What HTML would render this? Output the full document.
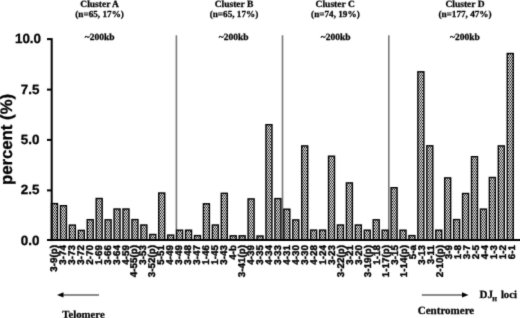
<!DOCTYPE html>
<html><head><meta charset="utf-8"><style>
html,body{margin:0;padding:0;background:#fff;}
svg{display:block;text-rendering:geometricPrecision;}
.ser{font-family:"Liberation Serif",serif;font-weight:bold;}
.san{font-family:"Liberation Sans",sans-serif;font-weight:bold;}
</style></head><body>
<svg width="520" height="318" viewBox="0 0 520 318">
<defs>
<filter id="bl" x="0" y="0" width="1" height="1" color-interpolation-filters="sRGB"><feConvolveMatrix order="3" kernelMatrix="1 6 1 6 36 6 1 6 1" divisor="64" edgeMode="duplicate"/></filter>
<pattern id="chk" width="2" height="3" patternUnits="userSpaceOnUse">
<rect width="2" height="3" fill="#fff"/>
<rect width="1" height="1.3" fill="#000"/>
<rect x="1" y="1.5" width="1" height="1.3" fill="#000"/>
</pattern>
</defs>
<g filter="url(#bl)">
<rect width="520" height="318" fill="#fff"/>
<!-- cluster titles -->
<g class="ser" font-size="9.5" text-anchor="middle" fill="#000" stroke="#000" stroke-width="0.25">
<text x="99.6" y="6.5">Cluster A</text>
<text x="99.6" y="17.2" font-size="9.2">(n=65, 17%)</text>
<text x="99.6" y="39.6">~200kb</text>
<text x="234" y="6.5">Cluster B</text>
<text x="234" y="17.2" font-size="9.2">(n=65, 17%)</text>
<text x="233.7" y="39.6">~200kb</text>
<text x="335.2" y="6.5">Cluster C</text>
<text x="335.4" y="17.2" font-size="9.2">(n=74, 19%)</text>
<text x="335.6" y="39.6">~200kb</text>
<text x="465" y="6.5">Cluster D</text>
<text x="465" y="17.2" font-size="9.2">(n=177, 47%)</text>
<text x="465" y="39.6">~200kb</text>
</g>
<!-- dividers -->
<g fill="#777">
<rect x="175.6" y="35.3" width="1.6" height="204"/>
<rect x="281.7" y="35.3" width="1.6" height="204"/>
<rect x="388.0" y="35.3" width="1.6" height="204"/>
</g>
<!-- bars -->
<rect x="51.50" y="203.60" width="6.00" height="36.10" fill="url(#chk)" stroke="#000" stroke-width="1.4"/>
<rect x="60.44" y="205.70" width="6.00" height="34.00" fill="url(#chk)" stroke="#000" stroke-width="1.4"/>
<rect x="69.37" y="225.10" width="6.00" height="14.60" fill="url(#chk)" stroke="#000" stroke-width="1.4"/>
<rect x="78.31" y="230.40" width="6.00" height="9.30" fill="url(#chk)" stroke="#000" stroke-width="1.4"/>
<rect x="87.24" y="219.70" width="6.00" height="20.00" fill="url(#chk)" stroke="#000" stroke-width="1.4"/>
<rect x="96.18" y="198.50" width="6.00" height="41.20" fill="url(#chk)" stroke="#000" stroke-width="1.4"/>
<rect x="105.12" y="219.80" width="6.00" height="19.90" fill="url(#chk)" stroke="#000" stroke-width="1.4"/>
<rect x="114.05" y="209.00" width="6.00" height="30.70" fill="url(#chk)" stroke="#000" stroke-width="1.4"/>
<rect x="122.99" y="209.00" width="6.00" height="30.70" fill="url(#chk)" stroke="#000" stroke-width="1.4"/>
<rect x="131.92" y="219.60" width="6.00" height="20.10" fill="url(#chk)" stroke="#000" stroke-width="1.4"/>
<rect x="140.86" y="225.00" width="6.00" height="14.70" fill="url(#chk)" stroke="#000" stroke-width="1.4"/>
<rect x="149.80" y="234.50" width="6.00" height="5.20" fill="url(#chk)" stroke="#000" stroke-width="1.4"/>
<rect x="158.73" y="193.00" width="6.00" height="46.70" fill="url(#chk)" stroke="#000" stroke-width="1.4"/>
<rect x="167.67" y="235.10" width="6.00" height="4.60" fill="url(#chk)" stroke="#000" stroke-width="1.4"/>
<rect x="176.60" y="230.20" width="6.00" height="9.50" fill="url(#chk)" stroke="#000" stroke-width="1.4"/>
<rect x="185.54" y="230.20" width="6.00" height="9.50" fill="url(#chk)" stroke="#000" stroke-width="1.4"/>
<rect x="194.48" y="235.60" width="6.00" height="4.10" fill="url(#chk)" stroke="#000" stroke-width="1.4"/>
<rect x="203.41" y="203.80" width="6.00" height="35.90" fill="url(#chk)" stroke="#000" stroke-width="1.4"/>
<rect x="212.35" y="225.00" width="6.00" height="14.70" fill="url(#chk)" stroke="#000" stroke-width="1.4"/>
<rect x="221.28" y="193.30" width="6.00" height="46.40" fill="url(#chk)" stroke="#000" stroke-width="1.4"/>
<rect x="230.22" y="235.80" width="6.00" height="3.90" fill="url(#chk)" stroke="#000" stroke-width="1.4"/>
<rect x="239.16" y="235.80" width="6.00" height="3.90" fill="url(#chk)" stroke="#000" stroke-width="1.4"/>
<rect x="248.09" y="198.90" width="6.00" height="40.80" fill="url(#chk)" stroke="#000" stroke-width="1.4"/>
<rect x="257.03" y="236.00" width="6.00" height="3.70" fill="url(#chk)" stroke="#000" stroke-width="1.4"/>
<rect x="265.96" y="124.70" width="6.00" height="115.00" fill="url(#chk)" stroke="#000" stroke-width="1.4"/>
<rect x="274.90" y="198.60" width="6.00" height="41.10" fill="url(#chk)" stroke="#000" stroke-width="1.4"/>
<rect x="283.84" y="209.20" width="6.00" height="30.50" fill="url(#chk)" stroke="#000" stroke-width="1.4"/>
<rect x="292.77" y="219.90" width="6.00" height="19.80" fill="url(#chk)" stroke="#000" stroke-width="1.4"/>
<rect x="301.71" y="145.90" width="6.00" height="93.80" fill="url(#chk)" stroke="#000" stroke-width="1.4"/>
<rect x="310.64" y="230.10" width="6.00" height="9.60" fill="url(#chk)" stroke="#000" stroke-width="1.4"/>
<rect x="319.58" y="230.10" width="6.00" height="9.60" fill="url(#chk)" stroke="#000" stroke-width="1.4"/>
<rect x="328.52" y="156.20" width="6.00" height="83.50" fill="url(#chk)" stroke="#000" stroke-width="1.4"/>
<rect x="337.45" y="225.00" width="6.00" height="14.70" fill="url(#chk)" stroke="#000" stroke-width="1.4"/>
<rect x="346.39" y="182.90" width="6.00" height="56.80" fill="url(#chk)" stroke="#000" stroke-width="1.4"/>
<rect x="355.32" y="225.00" width="6.00" height="14.70" fill="url(#chk)" stroke="#000" stroke-width="1.4"/>
<rect x="364.26" y="230.20" width="6.00" height="9.50" fill="url(#chk)" stroke="#000" stroke-width="1.4"/>
<rect x="373.20" y="219.80" width="6.00" height="19.90" fill="url(#chk)" stroke="#000" stroke-width="1.4"/>
<rect x="382.13" y="230.20" width="6.00" height="9.50" fill="url(#chk)" stroke="#000" stroke-width="1.4"/>
<rect x="391.07" y="187.70" width="6.00" height="52.00" fill="url(#chk)" stroke="#000" stroke-width="1.4"/>
<rect x="400.00" y="230.20" width="6.00" height="9.50" fill="url(#chk)" stroke="#000" stroke-width="1.4"/>
<rect x="408.94" y="235.60" width="6.00" height="4.10" fill="url(#chk)" stroke="#000" stroke-width="1.4"/>
<rect x="417.88" y="71.80" width="6.00" height="167.90" fill="url(#chk)" stroke="#000" stroke-width="1.4"/>
<rect x="426.81" y="145.80" width="6.00" height="93.90" fill="url(#chk)" stroke="#000" stroke-width="1.4"/>
<rect x="435.75" y="230.20" width="6.00" height="9.50" fill="url(#chk)" stroke="#000" stroke-width="1.4"/>
<rect x="444.68" y="177.90" width="6.00" height="61.80" fill="url(#chk)" stroke="#000" stroke-width="1.4"/>
<rect x="453.62" y="219.60" width="6.00" height="20.10" fill="url(#chk)" stroke="#000" stroke-width="1.4"/>
<rect x="462.56" y="193.50" width="6.00" height="46.20" fill="url(#chk)" stroke="#000" stroke-width="1.4"/>
<rect x="471.49" y="156.70" width="6.00" height="83.00" fill="url(#chk)" stroke="#000" stroke-width="1.4"/>
<rect x="480.43" y="209.10" width="6.00" height="30.60" fill="url(#chk)" stroke="#000" stroke-width="1.4"/>
<rect x="489.36" y="177.50" width="6.00" height="62.20" fill="url(#chk)" stroke="#000" stroke-width="1.4"/>
<rect x="498.30" y="145.90" width="6.00" height="93.80" fill="url(#chk)" stroke="#000" stroke-width="1.4"/>
<rect x="507.24" y="53.50" width="6.00" height="186.20" fill="url(#chk)" stroke="#000" stroke-width="1.4"/>
<!-- axes -->
<rect x="50.7" y="38.1" width="2" height="203" fill="#000"/>
<rect x="47" y="239" width="473" height="2" fill="#000"/>
<g fill="#000">
<rect x="47" y="38.1" width="4" height="2"/>
<rect x="47" y="88.6" width="4" height="2"/>
<rect x="47" y="138.9" width="4" height="2"/>
<rect x="47" y="189.4" width="4" height="2"/>
</g>
<!-- y tick labels -->
<g class="san" font-size="13.4" text-anchor="end" fill="#000" stroke="#000" stroke-width="0.3">
<text x="41.0" y="43.0">10.0</text>
<text x="39.4" y="93.6">7.5</text>
<text x="39.4" y="143.8">5.0</text>
<text x="39.4" y="194.3">2.5</text>
<text x="39.4" y="244.6">0.0</text>
</g>
<text class="san" font-size="16.75" transform="translate(12.2,185.1) rotate(-90)" fill="#000" stroke="#000" stroke-width="0.3">percent (%)</text>
<!-- x labels -->
<g class="san" font-size="9.8" fill="#000" stroke="#000" stroke-width="0.4">
<text transform="translate(56.65,245.1) rotate(-90)" text-anchor="end">3-9(p)</text>
<text transform="translate(65.63,245.1) rotate(-90)" text-anchor="end">3-74</text>
<text transform="translate(74.61,245.1) rotate(-90)" text-anchor="end">3-73</text>
<text transform="translate(83.59,245.1) rotate(-90)" text-anchor="end">3-72</text>
<text transform="translate(92.57,245.1) rotate(-90)" text-anchor="end">2-70</text>
<text transform="translate(101.55,245.1) rotate(-90)" text-anchor="end">1-69</text>
<text transform="translate(110.54,245.1) rotate(-90)" text-anchor="end">3-66</text>
<text transform="translate(119.52,245.1) rotate(-90)" text-anchor="end">3-64</text>
<text transform="translate(128.50,245.1) rotate(-90)" text-anchor="end">4-59</text>
<text transform="translate(137.48,245.1) rotate(-90)" text-anchor="end">4-55(p)</text>
<text transform="translate(146.46,245.1) rotate(-90)" text-anchor="end">3-53</text>
<text transform="translate(155.44,245.1) rotate(-90)" text-anchor="end">3-52(p)</text>
<text transform="translate(164.42,245.1) rotate(-90)" text-anchor="end">5-51</text>
<text transform="translate(173.40,245.1) rotate(-90)" text-anchor="end">4-49</text>
<text transform="translate(182.38,245.1) rotate(-90)" text-anchor="end">3-49</text>
<text transform="translate(191.37,245.1) rotate(-90)" text-anchor="end">3-48</text>
<text transform="translate(200.35,245.1) rotate(-90)" text-anchor="end">3-47</text>
<text transform="translate(209.33,245.1) rotate(-90)" text-anchor="end">1-46</text>
<text transform="translate(218.31,245.1) rotate(-90)" text-anchor="end">1-45</text>
<text transform="translate(227.29,245.1) rotate(-90)" text-anchor="end">3-43</text>
<text transform="translate(236.27,245.1) rotate(-90)" text-anchor="end">4-b</text>
<text transform="translate(245.25,245.1) rotate(-90)" text-anchor="end">3-41(p)</text>
<text transform="translate(254.23,245.1) rotate(-90)" text-anchor="end">4-39</text>
<text transform="translate(263.21,245.1) rotate(-90)" text-anchor="end">3-35</text>
<text transform="translate(272.19,245.1) rotate(-90)" text-anchor="end">4-34</text>
<text transform="translate(281.18,245.1) rotate(-90)" text-anchor="end">3-33</text>
<text transform="translate(290.16,245.1) rotate(-90)" text-anchor="end">4-31</text>
<text transform="translate(299.14,245.1) rotate(-90)" text-anchor="end">4-30</text>
<text transform="translate(308.12,245.1) rotate(-90)" text-anchor="end">3-30</text>
<text transform="translate(317.10,245.1) rotate(-90)" text-anchor="end">4-28</text>
<text transform="translate(326.08,245.1) rotate(-90)" text-anchor="end">1-24</text>
<text transform="translate(335.06,245.1) rotate(-90)" text-anchor="end">3-23</text>
<text transform="translate(344.04,245.1) rotate(-90)" text-anchor="end">3-22(p)</text>
<text transform="translate(353.02,245.1) rotate(-90)" text-anchor="end">3-21</text>
<text transform="translate(362.00,245.1) rotate(-90)" text-anchor="end">3-20</text>
<text transform="translate(370.99,245.1) rotate(-90)" text-anchor="end">3-19(p)</text>
<text transform="translate(379.97,245.1) rotate(-90)" text-anchor="end">1-18</text>
<text transform="translate(388.95,245.1) rotate(-90)" text-anchor="end">1-17(p)</text>
<text transform="translate(397.93,245.1) rotate(-90)" text-anchor="end">3-15</text>
<text transform="translate(406.91,245.1) rotate(-90)" text-anchor="end">1-14(p)</text>
<text transform="translate(415.89,245.1) rotate(-90)" text-anchor="end">5-a</text>
<text transform="translate(424.87,245.1) rotate(-90)" text-anchor="end">3-13</text>
<text transform="translate(433.85,245.1) rotate(-90)" text-anchor="end">3-11</text>
<text transform="translate(442.83,245.1) rotate(-90)" text-anchor="end">2-10(p)</text>
<text transform="translate(451.81,245.1) rotate(-90)" text-anchor="end">3-9</text>
<text transform="translate(460.80,245.1) rotate(-90)" text-anchor="end">1-8</text>
<text transform="translate(469.78,245.1) rotate(-90)" text-anchor="end">3-7</text>
<text transform="translate(478.76,245.1) rotate(-90)" text-anchor="end">2-5</text>
<text transform="translate(487.74,245.1) rotate(-90)" text-anchor="end">4-4</text>
<text transform="translate(496.72,245.1) rotate(-90)" text-anchor="end">1-3</text>
<text transform="translate(505.70,245.1) rotate(-90)" text-anchor="end">1-2</text>
<text transform="translate(514.68,245.1) rotate(-90)" text-anchor="end">6-1</text>
</g>
<!-- arrows -->
<rect x="62" y="294" width="37" height="2" fill="#8a8a8a"/>
<path d="M57 294.9 L63.5 292.2 L63.5 297.6 Z" fill="#000"/>
<rect x="421.8" y="294" width="41.5" height="2" fill="#8a8a8a"/>
<path d="M468.5 294.9 L462 292.2 L462 297.6 Z" fill="#000"/>
<g class="ser" fill="#000" stroke="#000" stroke-width="0.25">
<text x="62.2" y="317.6" font-size="10.8">Telomere</text>
<text x="417.8" y="313.6" font-size="11">Centromere</text>
<text x="479.6" y="297.7" font-size="11">DJ</text>
<text x="492.2" y="300.7" font-size="6">H</text>
<text x="500.9" y="297.7" font-size="10.7">loci</text>
</g>
</g>
</svg>
</body></html>
